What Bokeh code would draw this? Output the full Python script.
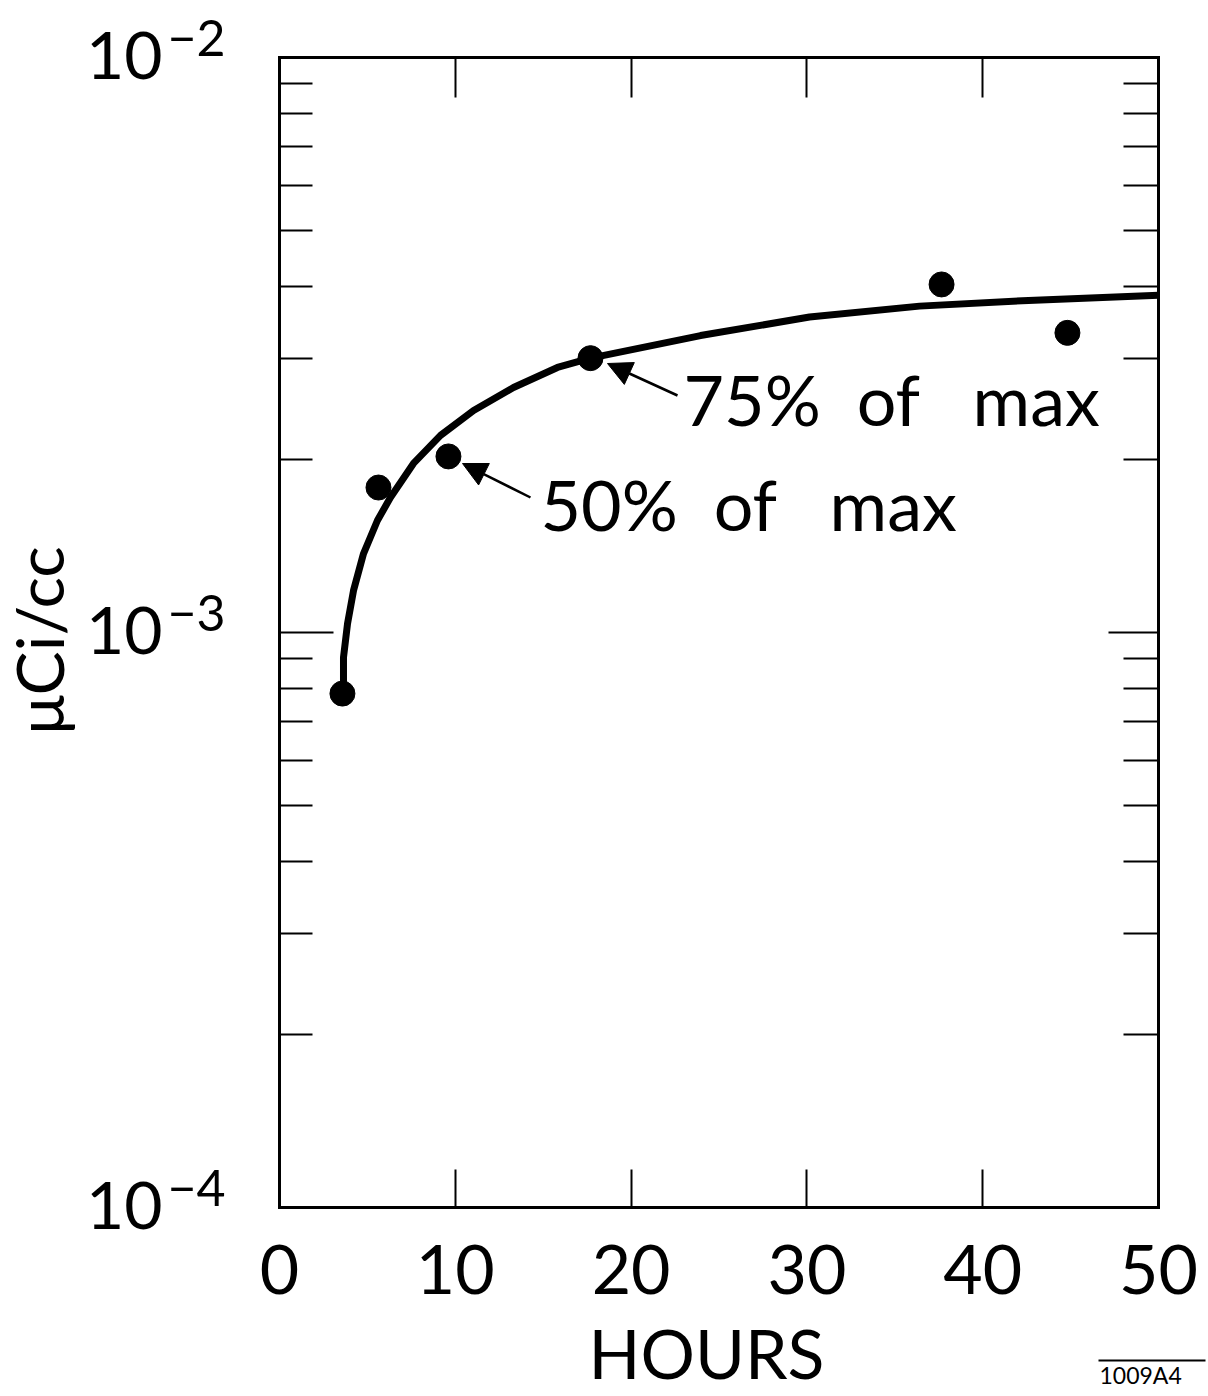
import math
from bokeh.plotting import figure
from bokeh.models import (LogAxis, LinearAxis, FixedTicker, Label, Arrow, NormalHead,
                          Range1d, CustomJSTickFormatter)
from bokeh.embed import file_html
from bokeh.resources import INLINE

# ---------------- data ----------------
point_hours = [3.58, 5.63, 9.61, 17.69, 37.66, 44.82]
point_uci = [7.83e-4, 1.787e-3, 2.024e-3, 3.0e-3, 4.03e-3, 3.32e-3]

curve_hours = [3.64, 3.64, 3.87, 4.21, 4.78, 5.57, 6.31, 7.62, 9.16, 11.04, 13.31,
               15.81, 17.69, 23.95, 30.15, 36.41, 42.6, 50.0]
curve_uci = [7.83e-4, 9.05e-4, 1.036e-3, 1.183e-3, 1.372e-3, 1.566e-3, 1.717e-3,
             1.968e-3, 2.202e-3, 2.433e-3, 2.667e-3, 2.89e-3, 3.0e-3, 3.284e-3,
             3.537e-3, 3.695e-3, 3.78e-3, 3.86e-3]

x_ticks = [0, 10, 20, 30, 40, 50]
x_top_ticks = [10, 20, 30, 40]
y_decades = [1e-4, 1e-3, 1e-2]
y_exponents = ["\u22124", "\u22123", "\u22122"]
y_minor = [m * d for d in (1e-4, 1e-3) for m in range(2, 10)]

FONT = "Lato"

# ---------------- layout: the frame covers the whole canvas, the box sits at fixed pixels --
W, H = 1208, 1396
BOX_L, BOX_R, BOX_T, BOX_B = 279, 1158, 57, 1207
X0, X1 = x_ticks[0], x_ticks[-1]
LY0, LY1 = math.log10(y_decades[0]), math.log10(y_decades[-1])
PXH = (BOX_R - BOX_L) / (X1 - X0)          # pixels per hour
PXD = (BOX_B - BOX_T) / (LY1 - LY0)        # pixels per decade
BASE = 0.38                                # label anchor -> glyph baseline shift (em)


def hx(px):
    return X0 + (px - BOX_L) / PXH


def vy(py):
    return 10 ** (LY1 - (py - BOX_T) / PXD)


def text_label(px, baseline_py, text, size, align="left", angle=0.0):
    """Place a label so that its glyph baseline lands at the given pixel row."""
    if angle:
        return Label(x=hx(px - BASE * size), y=vy(baseline_py), text=text,
                     text_align=align, text_baseline="alphabetic", angle=angle,
                     text_font=FONT, text_font_size=f"{size}px", text_color="black")
    return Label(x=hx(px), y=vy(baseline_py - BASE * size), text=text,
                 text_align=align, text_baseline="alphabetic",
                 text_font=FONT, text_font_size=f"{size}px", text_color="black")


p = figure(width=W, height=H,
           x_range=Range1d(hx(0), hx(W)), y_range=Range1d(vy(H), vy(0)),
           y_axis_type="log", output_backend="svg", toolbar_location=None,
           min_border=0, min_border_left=0, min_border_right=0,
           min_border_top=0, min_border_bottom=0)
p.grid.visible = False
p.outline_line_color = None
p.background_fill_color = "white"
p.border_fill_color = "white"

empty = CustomJSTickFormatter(code="return ''")

# bottom axis (at 1e-4)
xa = p.xaxis[0]
xa.fixed_location = y_decades[0]
xa.bounds = (X0, X1)
xa.ticker = FixedTicker(ticks=x_ticks)
xa.major_tick_in = 38
xa.major_tick_out = 0
xa.minor_tick_in = 0
xa.minor_tick_out = 0
xa.axis_line_width = 3
xa.axis_line_cap = "square"
xa.major_tick_line_width = 2
xa.major_label_text_font = FONT
xa.major_label_text_font_size = "68px"
xa.major_label_text_color = "black"
xa.major_label_standoff = 37

# left axis (at 0 h)
ya = p.yaxis[0]
ya.fixed_location = X0
ya.bounds = (y_decades[0], y_decades[-1])
ya.ticker = FixedTicker(ticks=y_decades, minor_ticks=y_minor)
ya.formatter = empty
ya.major_tick_in = 54
ya.major_tick_out = 0
ya.minor_tick_in = 33
ya.minor_tick_out = 0
ya.axis_line_width = 3
ya.axis_line_cap = "square"
ya.major_tick_line_width = 2
ya.minor_tick_line_width = 2

# right axis (at 50 h)
ra = LogAxis(ticker=FixedTicker(ticks=y_decades, minor_ticks=y_minor), formatter=empty,
             fixed_location=X1, bounds=(y_decades[0], y_decades[-1]),
             major_tick_in=50, major_tick_out=0, minor_tick_in=35, minor_tick_out=0,
             axis_line_width=3, axis_line_cap="square",
             major_tick_line_width=2, minor_tick_line_width=2)
p.add_layout(ra, "right")

# top axis (at 1e-2)
ta = LinearAxis(ticker=FixedTicker(ticks=x_top_ticks), formatter=empty,
                fixed_location=y_decades[-1], bounds=(X0, X1),
                major_tick_in=40, major_tick_out=0, minor_tick_in=0, minor_tick_out=0,
                axis_line_width=3, axis_line_cap="square", major_tick_line_width=2)
p.add_layout(ta, "above")

# curve and points
p.line(curve_hours, curve_uci, line_width=7, line_color="black", line_join="round")
p.scatter(point_hours, point_uci, size=25, fill_color="black", line_color="black")

# y decade labels: "10" with a raised exponent
for d, exp in zip(y_decades, y_exponents):
    py = BOX_T + (LY1 - math.log10(d)) * PXD
    p.add_layout(text_label(162, py + 23, "10", 66, align="right"))
    p.add_layout(text_label(167, py - 1, exp, 50))

# axis titles
p.add_layout(text_label(63, 640, "\u03bcCi/cc", 66, align="center", angle=math.pi / 2))
p.add_layout(text_label(706, 1378, "HOURS", 68, align="center"))

# annotations
p.add_layout(text_label(683, 425, "75% \u00a0of \u00a0\u00a0max", 70))
p.add_layout(text_label(540, 530, "50% \u00a0of \u00a0\u00a0max", 70))
p.add_layout(Arrow(x_start=hx(677), y_start=vy(395), x_end=hx(607), y_end=vy(363),
                   line_width=2.5, line_color="black",
                   end=NormalHead(size=24, fill_color="black", line_color="black")))
p.add_layout(Arrow(x_start=hx(530), y_start=vy(497), x_end=hx(462), y_end=vy(463),
                   line_width=2.5, line_color="black",
                   end=NormalHead(size=24, fill_color="black", line_color="black")))

# figure id with overline
p.add_layout(text_label(1099, 1383, "1009A4", 23))
p.add_layout(Arrow(x_start=hx(1098), y_start=vy(1360), x_end=hx(1205), y_end=vy(1360),
                   line_width=2, line_color="black", end=None))

open("out.html", "w").write(file_html(p, INLINE))
